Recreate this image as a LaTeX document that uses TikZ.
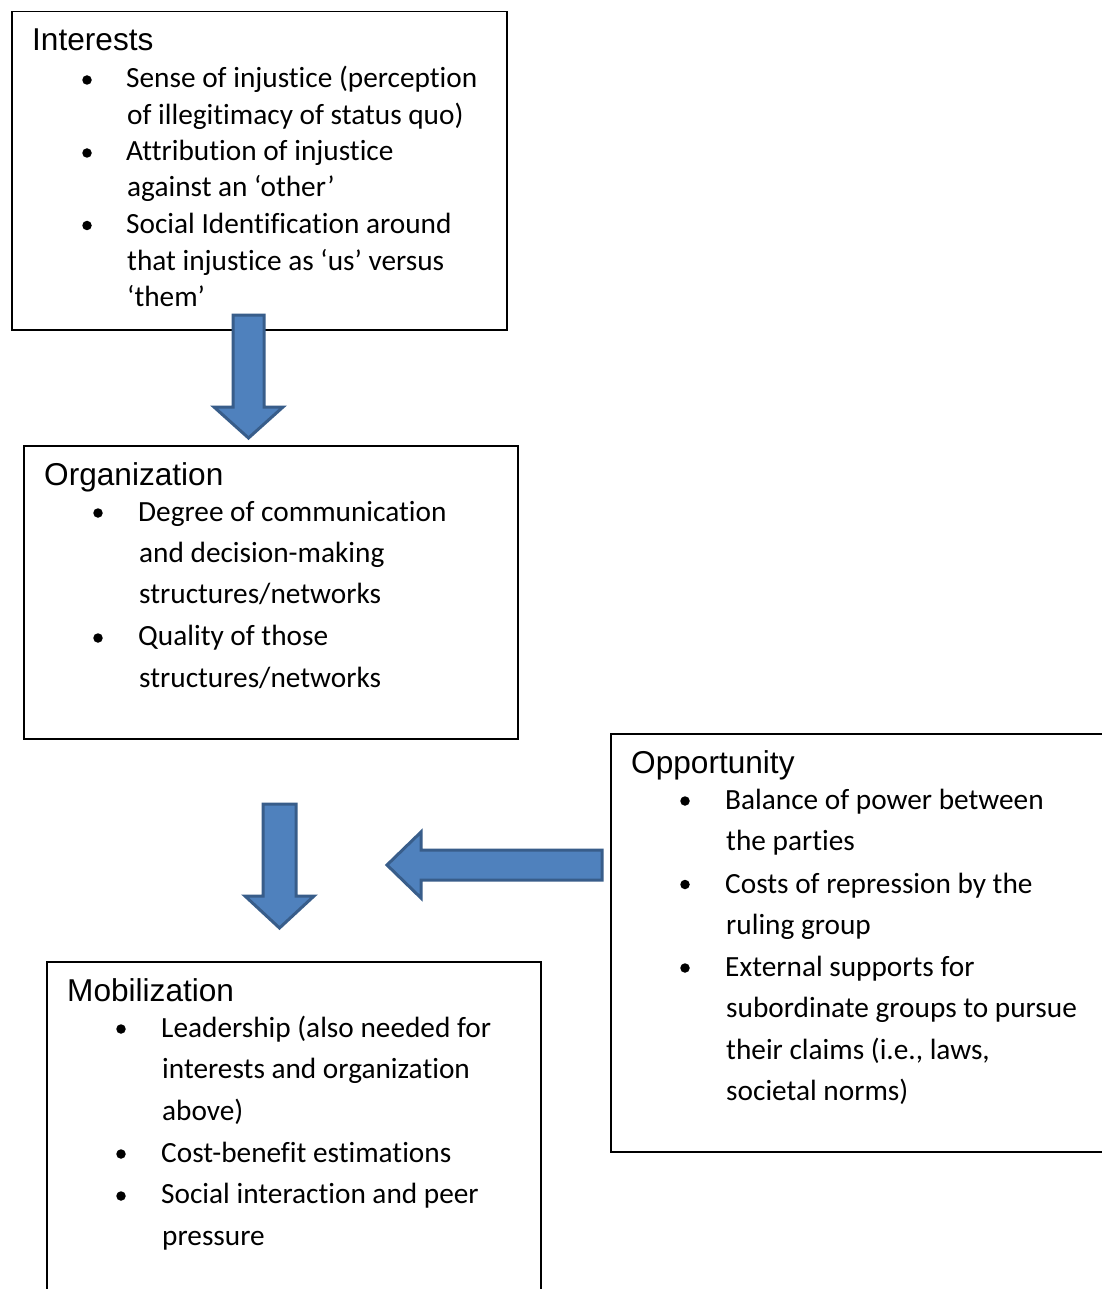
\documentclass[tikz,border=0pt]{standalone}
\usepackage{fontspec}
\setmainfont{Carlito}[Ligatures={NoCommon}]
\newfontfamily\titlefont{Liberation Sans}
\definecolor{arrowfill}{HTML}{4F81BD}
\definecolor{arrowline}{HTML}{385D8A}
\begin{document}
\begin{tikzpicture}[x=1pt,y=-1pt,
  box/.style={draw=black,line width=1.5pt,inner sep=0pt,anchor=north west},
  ttl/.style={anchor=base west,inner sep=0pt,font=\titlefont\fontsize{31.6}{37}\selectfont},
  itm/.style={anchor=base west,inner sep=0pt,font=\fontsize{29.3}{35}\selectfont},
  bul/.style={circle,fill=black,inner sep=0pt,minimum size=9.5pt},
  barrow/.style={fill=arrowfill,draw=arrowline,line width=3pt,line join=miter}]
\useasboundingbox (0,0) rectangle (1101,1289);
\fill[white] (0,0) rectangle (1101,1289);

% Boxes
\node[box,minimum width=495pt,minimum height=318pt] (int) at (11,11) {};
\node[box,minimum width=494pt,minimum height=293pt] (org) at (23,445) {};
\node[box,minimum width=500pt,minimum height=418pt] (opp) at (610,733) {};
\node[box,minimum width=494pt,minimum height=340pt] (mob) at (46,961) {};

% Interests
\node[ttl] (intT) at (32,51) {Interests};
\node[bul] (intB1) at (87,80) {};
\node[itm] (intL1) at (126,88) {Sense of injustice (perception};
\node[itm] (intL2) at (127,124.5) {of illegitimacy of status quo)};
\node[bul] (intB2) at (87,153) {};
\node[itm] (intL3) at (126,161) {Attribution of injustice};
\node[itm] (intL4) at (127,197) {against an ‘other’};
\node[bul] (intB3) at (87,225.5) {};
\node[itm] (intL5) at (126,233.5) {Social Identification around};
\node[itm] (intL6) at (127,270) {that injustice as ‘us’ versus};
\node[itm] (intL7) at (127,306) {‘them’};

% Organization
\node[ttl] (orgT) at (44,485) {Organization};
\node[bul] (orgB1) at (98,513) {};
\node[itm] (orgL1) at (138,521) {Degree of communication};
\node[itm] (orgL2) at (139,562) {and decision-making};
\node[itm] (orgL3) at (139,603.5) {structures/networks};
\node[bul] (orgB2) at (98,638) {};
\node[itm] (orgL4) at (138,645.5) {Quality of those};
\node[itm] (orgL5) at (139,687) {structures/networks};

% Opportunity
\node[ttl] (oppT) at (631,773) {Opportunity};
\node[bul] (oppB1) at (685,801) {};
\node[itm] (oppL1) at (725,809) {Balance of power between};
\node[itm] (oppL2) at (726,850) {the parties};
\node[bul] (oppB2) at (685,884.5) {};
\node[itm] (oppL3) at (725,893) {Costs of repression by the};
\node[itm] (oppL4) at (726,934) {ruling group};
\node[bul] (oppB3) at (685,968) {};
\node[itm] (oppL5) at (725,976.5) {External supports for};
\node[itm] (oppL6) at (726,1017.5) {subordinate groups to pursue};
\node[itm] (oppL7) at (726,1059) {their claims (i.e., laws,};
\node[itm] (oppL8) at (726,1100.5) {societal norms)};

% Mobilization
\node[ttl] (mobT) at (67,1001) {Mobilization};
\node[bul] (mobB1) at (121,1029) {};
\node[itm] (mobL1) at (161,1037) {Leadership (also needed for};
\node[itm] (mobL2) at (162,1078) {interests and organization};
\node[itm] (mobL3) at (162,1120) {above)};
\node[bul] (mobB2) at (121,1154) {};
\node[itm] (mobL4) at (161,1162) {Cost-benefit estimations};
\node[bul] (mobB3) at (121,1196) {};
\node[itm] (mobL5) at (161,1203.5) {Social interaction and peer};
\node[itm] (mobL6) at (162,1245) {pressure};

% Block arrows
\draw[barrow] (233,315) -- (264,315) -- (264,407) -- (283,407) -- (248.5,438) -- (214,407) -- (233,407) -- cycle;
\draw[barrow] (263,804) -- (296,804) -- (296,896) -- (314,896) -- (279.5,928) -- (245,896) -- (263,896) -- cycle;
\draw[barrow] (602,850) -- (602,880) -- (421,880) -- (421,898) -- (387,865) -- (421,832) -- (421,850) -- cycle;
\end{tikzpicture}
\end{document}
